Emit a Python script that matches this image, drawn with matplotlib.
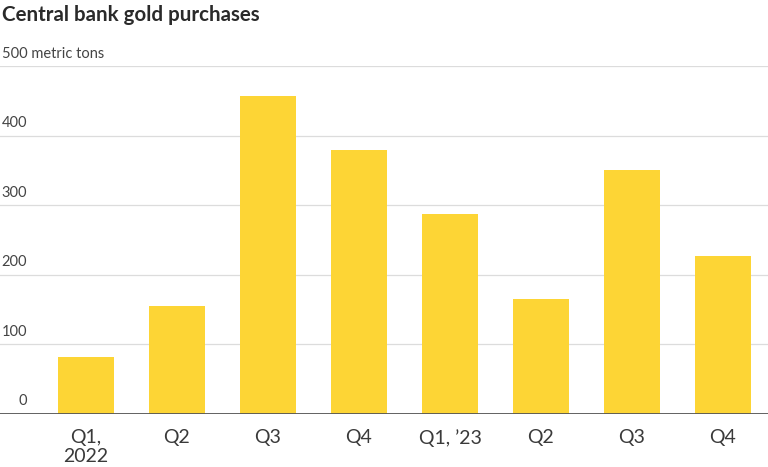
import numpy as np
import matplotlib.pyplot as plt

plt.rcParams['font.family'] = ['Lato', 'DejaVu Sans']

quarters = ["Q1,\n2022", "Q2", "Q3", "Q4", "Q1, \u201923", "Q2", "Q3", "Q4"]
tons = [82, 155, 457, 380, 288, 165, 351, 227]
yticks = [0, 100, 200, 300, 400, 500]

fig = plt.figure(figsize=(7.68, 4.67), dpi=100)
ax = fig.add_axes([0, 0.1135, 1, 0.745])

x = np.arange(len(tons))
ax.bar(x, tons, width=0.615, color="#FDD535", zorder=2)

ax.set_xlim(-0.945, 7.495)
ax.set_ylim(0, 500)

# gridlines with labels sitting on top of them
for v in yticks[1:]:
    ax.axhline(v, color="#dcdcdc", lw=0.9, zorder=1)
for v in yticks[:-1]:
    ax.text(0.035, v + 8, str(v), transform=ax.get_yaxis_transform(),
            ha="right", va="bottom", fontsize=10.5, color="#444")
ax.text(0.003, 508, "500 metric tons", transform=ax.get_yaxis_transform(),
        ha="left", va="bottom", fontsize=10.5, color="#444")

ax.axhline(0, color="#555555", lw=1.3, zorder=3)

ax.set_xticks(x)
ax.set_xticklabels(quarters, fontsize=14, color="#3a3a3a", linespacing=1.15)
ax.tick_params(axis="x", length=0, pad=11)
ax.set_yticks([])
for s in ax.spines.values():
    s.set_visible(False)

fig.text(0.003, 0.967, "Central bank gold purchases", fontsize=14.8,
         fontweight="bold", color="#2a2a2a", ha="left", va="center")

fig.savefig("out.png", dpi=100)
